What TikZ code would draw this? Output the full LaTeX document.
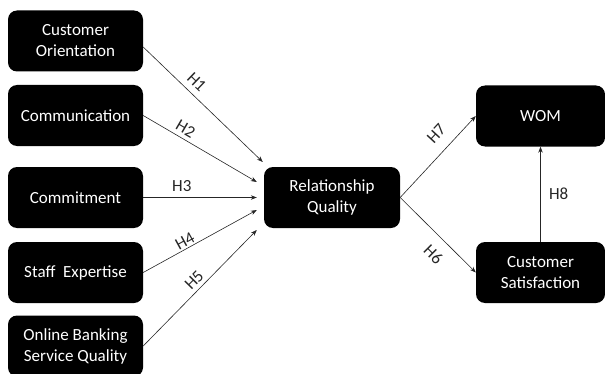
\documentclass[tikz,border=0pt]{standalone}
\usepackage{fontspec}
\setmainfont{Carlito}
\usetikzlibrary{arrows.meta}

\begin{document}
\begin{tikzpicture}[x=1pt,y=1pt,>={Stealth[length=6pt,width=4.5pt]},
  font=\fontsize{17}{21}\selectfont,
  blk/.style={fill=black,text=white,rounded corners=9pt,align=center,
              minimum width=135pt,minimum height=61pt,inner sep=0pt},
  lnk/.style={->,line width=.6pt,black!85},
  hyp/.style={sloped,inner sep=2pt}]
 \useasboundingbox (0,0) rectangle (605,373);
 \node[blk] (co)  at (75.5,332)  {Customer\\Orientation};
 \node[blk] (com) at (75.5,257.5) {Communication};
 \node[blk] (cmt) at (75.5,175.5) {Commitment};
 \node[blk] (se)  at (75.5,100.5) {Staff\ \ Expertise};
 \node[blk] (obs) at (75.5,27)   {Online Banking\\Service Quality};
 \node[blk,minimum width=136pt] (rq) at (332,175.5) {Relationship\\Quality};
 \node[blk,minimum width=129pt] (wom) at (540.5,257) {WOM};
 \node[blk,minimum width=129pt] (cs)  at (540.5,100.5) {Customer\\Satisfaction};

 \draw[lnk] ([yshift=-6pt]co.east) -- ([shift={(-1,35.5)}]rq.west)
       node[hyp,above=4pt,pos=.38] {H1};
 \draw[lnk] (com.east) -- ([shift={(-7,15.5)}]rq.west)
       node[hyp,above=2pt,pos=.33] {H2};
 \draw[lnk] (cmt.east) -- ([xshift=-7pt]rq.west)
       node[hyp,above=4pt,pos=.34] {H3};
 \draw[lnk] (se.east) -- ([shift={(-7,-12.5)}]rq.west)
       node[hyp,above=0pt,pos=.4] {H4};
 \draw[lnk] (obs.east) -- ([shift={(-7,-32.5)}]rq.west)
       node[hyp,above=2pt,pos=.51] {H5};
 \draw[lnk] (rq.east) -- (wom.west)
       node[hyp,above=9pt,pos=.64] {H7};
 \draw[lnk] (rq.east) -- (cs.west)
       node[hyp,below=9pt,pos=.6] {H6};
 \draw[lnk] (cs.north) -- (wom.south)
       node[right=5pt,midway] {H8};
\end{tikzpicture}
\end{document}
